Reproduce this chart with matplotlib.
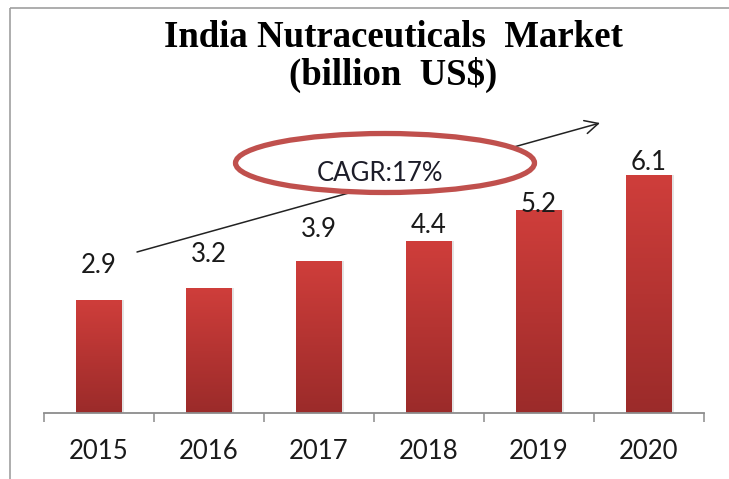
import numpy as np
import matplotlib
matplotlib.use("Agg")
import matplotlib.pyplot as plt
from matplotlib.colors import LinearSegmentedColormap
from matplotlib.patches import Ellipse, Rectangle

# chart data
years = ["2015", "2016", "2017", "2018", "2019", "2020"]
market = [2.9, 3.2, 3.9, 4.4, 5.2, 6.1]
# how far (px) each value label sits above its bar, as in the original
label_lift = [36, 35, 33, 17, 7, 14]

W, H = 729, 479
PT = 0.72  # points per pixel at dpi=100

fig = plt.figure(figsize=(W / 100, H / 100), dpi=100)
ax = fig.add_axes([44 / W, (H - 413) / H, 660 / W, 273 / H])

x = np.arange(len(years))
bars = ax.bar(x, market, width=0.41, color="none", edgecolor="none")

# vertical gradient fill for every bar
cmap = LinearSegmentedColormap.from_list("bar", ["#9b2b2a", "#b53432", "#cf3e3b"])
grad = np.linspace(0, 1, 256).reshape(-1, 1)
for b in bars:
    x0, w, h = b.get_x(), b.get_width(), b.get_height()
    # faint shadow on the right
    ax.add_patch(Rectangle((x0 + w, 0), 0.02, h, color="#e4e4e4", zorder=1, lw=0))
    im = ax.imshow(grad, extent=[x0, x0 + w, 0, h], origin="lower",
                   aspect="auto", cmap=cmap, zorder=2)
    im.set_clip_path(b)

for xi, v, lift in zip(x, market, label_lift):
    ax.annotate(f"{v}", xy=(xi, v), xytext=(0, (lift - 9) * PT),
                textcoords="offset points", ha="center", va="baseline",
                fontsize=18.5, family="Lato", color="#1a1a1a")

ax.set_xlim(-0.5, 5.5)
ax.set_ylim(0, 7)
for s in ["left", "right", "top"]:
    ax.spines[s].set_visible(False)
ax.spines["bottom"].set_color("#8c8c8c")
ax.spines["bottom"].set_linewidth(1.3)
ax.set_yticks([])
ax.set_xticks(x, years)
ax.tick_params(axis="x", which="major", length=0, pad=19, labelsize=18.5,
               labelcolor="#1a1a1a")
for t in ax.get_xticklabels():
    t.set_family("Lato")
ax.set_xticks(np.arange(-0.5, 6, 1), minor=True)
ax.tick_params(axis="x", which="minor", length=6.5, width=1.1,
               color="#8c8c8c", direction="out")

# title
fig.text(393 / W, 1 - 47 / H, "India Nutraceuticals  Market",
         ha="center", va="baseline", fontsize=26.5, fontweight="bold",
         family="Liberation Serif", color="black")
fig.text(393 / W, 1 - 85 / H, "(billion  US$)",
         ha="center", va="baseline", fontsize=26.5, fontweight="bold",
         family="Liberation Serif", color="black")

# overlay in pixel coordinates for the CAGR arrow and frame
ov = fig.add_axes([0, 0, 1, 1], zorder=5)
ov.set_xlim(0, W)
ov.set_ylim(H, 0)
ov.axis("off")
ov.patch.set_alpha(0)

ov.annotate("", xy=(600, 123), xytext=(137, 252),
            arrowprops=dict(arrowstyle="->", lw=1.1, color="#222222",
                            mutation_scale=24, shrinkA=0, shrinkB=0))
ov.add_patch(Ellipse((385, 163), 299, 59, facecolor="white",
                     edgecolor="#c0504d", lw=3.8, zorder=3))
ov.text(380, 181, "CAGR:17%", ha="center", va="baseline", fontsize=18.5,
        family="Lato", color="#1c1c28", zorder=4)

ov.add_patch(Rectangle((10, 8), 740, 480, fill=False, edgecolor="#a0a0a0",
                       lw=1.2, clip_on=False))

fig.savefig("out.png", dpi=100)
